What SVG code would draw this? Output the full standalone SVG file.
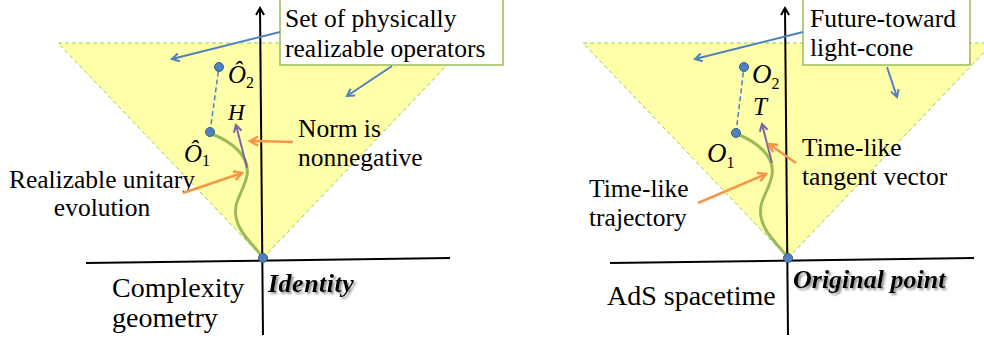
<svg xmlns="http://www.w3.org/2000/svg" width="984" height="347" viewBox="0 0 984 347">
<style>
.cone{fill:#FFFFAA;stroke:none}
.coneEdge{fill:none;stroke:#92D050;stroke-width:1;stroke-dasharray:4 3}
.axis{stroke:#000;stroke-width:2;fill:none}
.traj{fill:none;stroke:#9BBB59;stroke-width:3;stroke-linecap:round}
.dash{stroke:#4F81BD;stroke-width:1.5;stroke-dasharray:5 3}
.dot{fill:#4F81BD;stroke:#385D8A;stroke-width:1}
.blue{stroke:#4F81BD;stroke-width:2;marker-end:url(#mb)}
.orange{stroke:#F79646;stroke-width:2.5;marker-end:url(#mo)}
.purple{stroke:#8064A2;stroke-width:2;marker-end:url(#mp)}
.box{fill:#fff;stroke:#9BBB59;stroke-width:1.5}
text{font-family:"Liberation Serif","Times New Roman",serif;fill:#000}
.t25{font-size:25.5px}
.t28{font-size:28px}
.it{font-style:italic}
.bi{font-style:italic;font-weight:bold;font-size:26px}
.sub{font-size:16px;font-style:normal}
</style>
<defs>
<marker id="ma" markerWidth="10" markerHeight="10" refX="8" refY="5" orient="auto" markerUnits="userSpaceOnUse"><path d="M1,1 L8,5 L1,9" fill="none" stroke="#000" stroke-width="2"/></marker>
<marker id="mb" markerWidth="10" markerHeight="10" refX="8" refY="5" orient="auto" markerUnits="userSpaceOnUse"><path d="M1,1 L8,5 L1,9" fill="none" stroke="#4F81BD" stroke-width="2"/></marker>
<marker id="mo" markerWidth="12" markerHeight="12" refX="9" refY="6" orient="auto" markerUnits="userSpaceOnUse"><path d="M1,1.5 L9,6 L1,10.5" fill="none" stroke="#F79646" stroke-width="2.5"/></marker>
<marker id="mp" markerWidth="10" markerHeight="10" refX="8" refY="5" orient="auto" markerUnits="userSpaceOnUse"><path d="M1,1 L8,5 L1,9" fill="none" stroke="#8064A2" stroke-width="2"/></marker>
<filter id="sh" x="-10%" y="-30%" width="130%" height="180%"><feDropShadow dx="2" dy="2" stdDeviation="1.2" flood-color="#777" flood-opacity="0.8"/></filter>
</defs>

<!-- Left panel -->
<g id="left-cone">
<polygon class="cone" points="58,43 468,43 263,258"/>
<polyline class="coneEdge" points="468,43 58,43 263,258 468,43"/>
</g>
<g id="left-axes">
<line class="axis" x1="263" y1="335" x2="260" y2="8" marker-end="url(#ma)"/>
<line class="axis" x1="86" y1="263" x2="450" y2="258"/>
</g>
<g id="left-trajectory">
<path class="traj" d="M212,134 C232,142 250,156 247,175 C244,192 233,200 236,217 C239,234 255,246 263,258"/>
<line class="dash" x1="210" y1="132" x2="219" y2="67"/>
<circle class="dot" cx="210" cy="132" r="4.5"/>
<circle class="dot" cx="219" cy="67" r="4.5"/>
<circle class="dot" cx="263" cy="258" r="4.5"/>
</g>
<g id="left-labels">
<text class="it" x="228" y="83" font-size="25">Ô<tspan class="sub" dy="5">2</tspan></text>
<text class="it" x="184" y="162" font-size="25">Ô<tspan class="sub" dy="4">1</tspan></text>
<text class="it" x="228" y="120" font-size="23">H</text>
</g>
<g id="left-box">
<rect class="box" x="280" y="-2" width="223" height="67"/>
<text class="t25" x="285" y="27">Set of physically</text>
<text class="t25" x="285" y="57">realizable operators</text>
</g>
<g id="left-texts">
<text class="t25" x="298" y="137">Norm is</text>
<text class="t25" x="298" y="166">nonnegative</text>
<text class="t25" x="102" y="188" text-anchor="middle">Realizable unitary</text>
<text class="t25" x="102" y="216" text-anchor="middle">evolution</text>
<text class="t28" x="112" y="297">Complexity</text>
<text class="t28" x="112" y="327">geometry</text>
<text class="bi" x="268" y="292" font-size="27" letter-spacing="0.5" filter="url(#sh)">Identity</text>
</g>

<!-- Right panel -->
<g id="right-cone">
<polygon class="cone" points="583,43 993,43 788,258"/>
<polyline class="coneEdge" points="993,43 583,43 788,258 993,43"/>
</g>
<g id="right-axes">
<line class="axis" x1="788" y1="335" x2="785" y2="8" marker-end="url(#ma)"/>
<line class="axis" x1="610" y1="263" x2="974" y2="258"/>
</g>
<g id="right-trajectory">
<path class="traj" d="M737,134 C757,142 775,156 772,175 C769,192 758,200 761,217 C764,234 780,246 788,258"/>
<line class="dash" x1="736" y1="133" x2="744" y2="67"/>
<circle class="dot" cx="736" cy="133" r="4.5"/>
<circle class="dot" cx="744" cy="67" r="4.5"/>
<circle class="dot" cx="788" cy="258" r="4.5"/>
</g>
<g id="right-labels">
<text class="it" x="752" y="83" font-size="27">O<tspan class="sub" dy="6">2</tspan></text>
<text class="it" x="707" y="162" font-size="27">O<tspan class="sub" dy="6">1</tspan></text>
<text class="it" x="753" y="115" font-size="25">T</text>
</g>
<g id="right-box">
<rect class="box" x="803" y="-2" width="167" height="67"/>
<text class="t25" x="810" y="27">Future-toward</text>
<text class="t25" x="810" y="56">light-cone</text>
</g>
<g id="right-texts">
<text class="t25" x="802" y="156">Time-like</text>
<text class="t25" x="802" y="185">tangent vector</text>
<text class="t25" x="589" y="197">Time-like</text>
<text class="t25" x="589" y="226">trajectory</text>
<text class="t28" x="607" y="305">AdS spacetime</text>
<text class="bi" x="793" y="288" filter="url(#sh)">Original point</text>
</g>

<!-- Connectors -->
<g id="connectors">
<line class="purple" x1="247" y1="168" x2="236" y2="125"/>
<line class="orange" x1="293" y1="142" x2="250" y2="141"/>
<line class="orange" x1="183" y1="193" x2="242" y2="173"/>
<line class="blue" x1="280" y1="32" x2="172" y2="59"/>
<line class="blue" x1="392" y1="66" x2="347" y2="96"/>
<line class="purple" x1="772" y1="163" x2="762" y2="124"/>
<line class="orange" x1="796" y1="163" x2="769" y2="144"/>
<line class="orange" x1="698" y1="203" x2="766" y2="174"/>
<line class="blue" x1="803" y1="32" x2="695" y2="59"/>
<line class="blue" x1="887" y1="67" x2="897" y2="97"/>
</g>
</svg>
